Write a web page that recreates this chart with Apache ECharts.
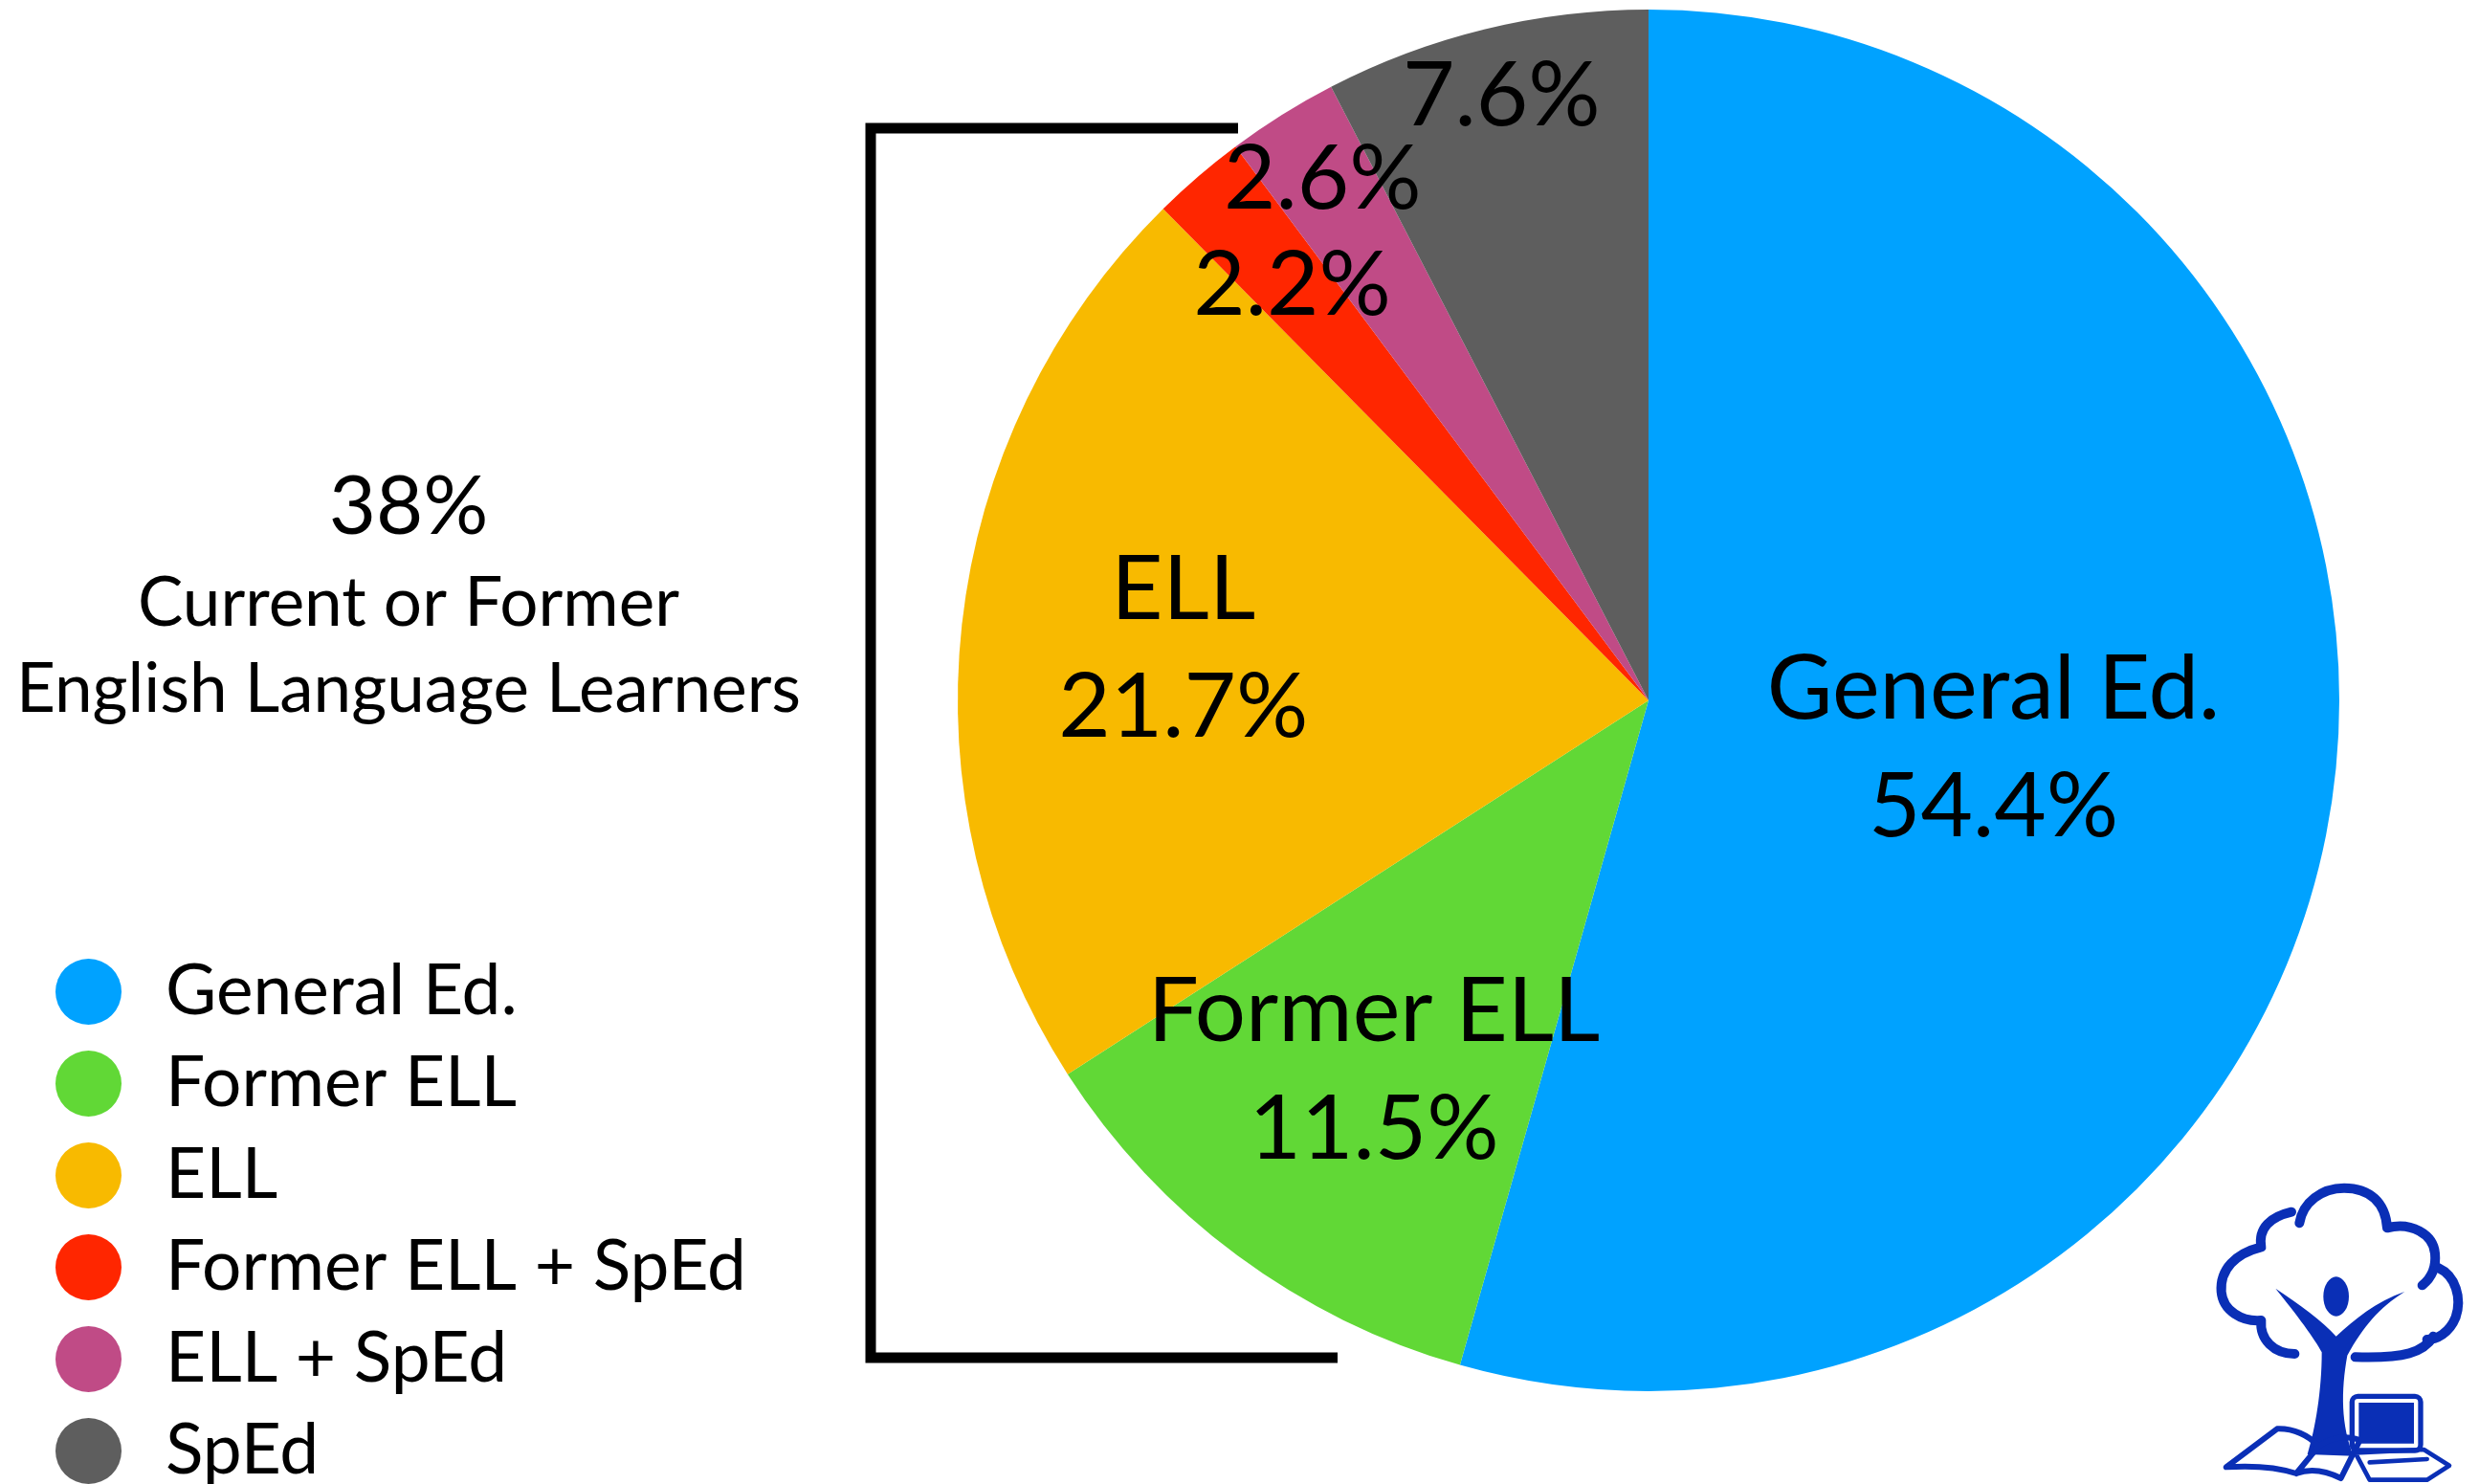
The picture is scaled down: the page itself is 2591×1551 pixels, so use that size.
<!DOCTYPE html>
<html>
<head>
<meta charset="utf-8">
<title>Student groups</title>
<script src="https://cdn.jsdelivr.net/npm/echarts@6/dist/echarts.min.js"></script>
<style>
    html, body { margin: 0; padding: 0; background: #fff; }
    #chart { width: 2591px; height: 1551px; }
</style>
</head>
<body>
<div id="chart"></div>
<script>
// data
var groupNames = ['General Ed.', 'Former ELL', 'ELL', 'Former ELL + SpEd', 'ELL + SpEd', 'SpEd'];
var groupShares = [54.4, 11.5, 21.7, 2.2, 2.6, 7.6];
var ellTotalLabel = '38%';
var ellCaption = ['Current or Former', 'English Language Learners'];

// styles
var sliceColors = ['#00A2FF', '#61D836', '#F8BA00', '#FF2600', '#C04B86', '#5E5E5E'];
var labelRadius = [0.5, 0.662, 0.672, 0.785, 0.882, 0.893]; // share of the pie radius
var FONT = 'Lato, "Noto Sans", sans-serif';
var CX = 1723, CY = 732, R = 722;
var LOGO = '#0A2FB6';

// logo outlines, drawn in a 3x local space
var logoPaths = {
    logoCloudA: 'M 345 200 C 280 215 240 250 250 310 C 170 330 120 380 125 450 C 130 510 190 545 250 540 C 245 600 290 645 355 645',
    logoCloudB: 'M 370 235 C 380 170 440 125 510 125 C 590 125 640 170 645 250 C 720 230 790 270 795 330 C 800 380 780 410 755 430',
    logoCloudC: 'M 805 375 C 860 400 880 470 860 530 C 840 580 800 600 770 600',
    logoCloudD: 'M 790 590 C 760 640 700 660 545 655',
    logoHead: 'M 445 465 A 40 62 0 1 0 525 465 A 40 62 0 1 0 445 465 Z',
    logoBody: 'M 295 440 C 360 520 420 600 440 640 C 440 760 420 880 395 960 L 540 965 C 500 870 500 760 520 650 C 570 560 620 500 700 450 C 610 480 540 540 485 590 C 440 540 370 490 295 440 Z',
    logoBook: 'M 140 1000 L 300 880 C 350 878 400 900 430 935 C 470 905 520 900 560 915 L 500 1035 C 450 1010 400 1005 360 1020 C 300 1000 220 995 140 1000 Z M 360 1020 L 430 935',
    logoLaptop: 'M 545 955 L 760 945 L 840 995 L 770 1040 L 590 1040 Z M 590 985 L 770 975'
};
for (var key in logoPaths) {
    echarts.graphic.registerShape(key, echarts.graphic.extendPath(logoPaths[key], {}));
}

var pieData = [];
for (var i = 0; i < groupNames.length; i++) {
    pieData.push({
        name: groupNames[i],
        value: groupShares[i],
        itemStyle: { color: sliceColors[i] }
    });
}

var myChart = echarts.init(document.getElementById('chart'));

var strokeStyle = function (w) {
    return { stroke: LOGO, lineWidth: w, fill: null, lineCap: 'round', lineJoin: 'round' };
};

var option = {
    backgroundColor: '#fff',
    animation: false,
    legend: {
        orient: 'vertical',
        left: 58,
        top: 1000,
        height: 600,
        padding: 0,
        itemWidth: 69,
        itemHeight: 69,
        itemGap: 23,
        icon: 'circle',
        selectedMode: false,
        data: groupNames,
        textStyle: {
            fontFamily: FONT,
            fontSize: 73,
            color: '#000',
            lineHeight: 59,
            padding: [0, 0, 10, 41]
        }
    },
    series: [
        {
            type: 'pie',
            center: [CX, CY],
            radius: R,
            startAngle: 90,
            clockwise: true,
            data: pieData,
            itemStyle: { borderWidth: 0 },
            emphasis: { disabled: true },
            label: {
                show: true,
                position: 'inside',
                fontFamily: FONT,
                fontSize: 94,
                lineHeight: 123,
                color: '#000',
                formatter: function (p) {
                    if (p.value >= 10) {
                        return p.name + '\n' + p.value + '%';
                    }
                    return p.value + '%';
                }
            },
            labelLine: { show: false },
            labelLayout: function (p) {
                // push each label out along its own slice direction
                var r = p.labelRect;
                var lx = r.x + r.width / 2;
                var ly = r.y + r.height / 2;
                var k = labelRadius[p.dataIndex] / 0.5 - 1;
                return { dx: (lx - CX) * k, dy: (ly - CY) * k };
            }
        }
    ],
    graphic: [
        {
            type: 'text',
            style: { text: ellTotalLabel, x: 427, y: 531, align: 'center', verticalAlign: 'middle',
                font: '85px ' + FONT, fill: '#000' }
        },
        {
            type: 'text',
            style: { text: ellCaption[0], x: 427, y: 631, align: 'center', verticalAlign: 'middle',
                font: '71px ' + FONT, fill: '#000' }
        },
        {
            type: 'text',
            style: { text: ellCaption[1], x: 427, y: 721, align: 'center', verticalAlign: 'middle',
                font: '71px ' + FONT, fill: '#000' }
        },
        // bracket round the ELL groups
        {
            type: 'polyline',
            shape: { points: [[1294, 134], [910, 134], [910, 1419], [1398, 1419]] },
            style: { stroke: '#000', lineWidth: 11, fill: null, lineJoin: 'miter' }
        },
        // logo (tree, person, book, laptop)
        {
            type: 'group',
            x: 2280,
            y: 1200,
            scaleX: 1 / 3,
            scaleY: 1 / 3,
            children: [
                { type: 'logoCloudA', style: strokeStyle(30) },
                { type: 'logoCloudB', style: strokeStyle(30) },
                { type: 'logoCloudC', style: strokeStyle(30) },
                { type: 'logoCloudD', style: strokeStyle(30) },
                { type: 'logoHead', style: { fill: LOGO } },
                { type: 'logoBody', style: { fill: LOGO } },
                { type: 'logoBook', style: strokeStyle(18) },
                {
                    type: 'rect',
                    shape: { x: 535, y: 778, width: 215, height: 170, r: 18 },
                    style: { stroke: LOGO, lineWidth: 16, fill: null }
                },
                {
                    type: 'rect',
                    shape: { x: 556, y: 798, width: 173, height: 128 },
                    style: { fill: LOGO }
                },
                { type: 'logoLaptop', style: strokeStyle(14) }
            ]
        }
    ]
};

myChart.setOption(option);
</script>
</body>
</html>
